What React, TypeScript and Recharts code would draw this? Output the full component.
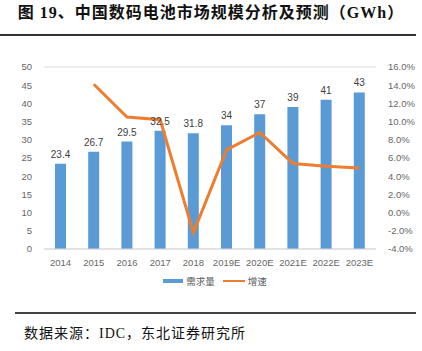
import { ComposedChart, Bar, Line, XAxis, YAxis, CartesianGrid, LabelList } from "recharts"

const years = ["2014", "2015", "2016", "2017", "2018", "2019E", "2020E", "2021E", "2022E", "2023E"]
const demand = [23.4, 26.7, 29.5, 32.5, 31.8, 34, 37, 39, 41, 43]
const growth = [null, 14.1, 10.5, 10.2, -2.2, 6.9, 8.8, 5.4, 5.1, 4.9]
const leftTicks = [0, 5, 10, 15, 20, 25, 30, 35, 40, 45, 50]
const rightTicks = [-4, -2, 0, 2, 4, 6, 8, 10, 12, 14, 16]

const data = years.map((y, i) => ({ year: y, demand: demand[i], growth: growth[i] }))

const tickStyle = { fontSize: 9.5, fill: "#666", fontFamily: "Liberation Sans, Noto Sans CJK SC" }

export default function App() {
  return (
    <div style={{ position: "absolute", left: 0, top: 0, width: 422, height: 351, background: "#fff", fontFamily: "Liberation Serif, Noto Sans CJK SC" }}>
      <div style={{ position: "absolute", left: 0, width: 422, top: 2, textAlign: "center", fontSize: 16, fontWeight: "bold", color: "#111", lineHeight: "22px", letterSpacing: 1 }}>
        图 19、中国数码电池市场规模分析及预测（GWh）
      </div>
      <div style={{ position: "absolute", left: 0, top: 34, width: 416, height: 1.5, background: "#333" }} />

      <div style={{ position: "absolute", left: 0, top: 0 }}>
        <ComposedChart width={422} height={300} data={data} margin={{ top: 67, right: 6, left: 0, bottom: 31 }}>
          <CartesianGrid vertical={false} stroke="#D9D9D9" />
          <XAxis dataKey="year" tick={tickStyle} tickLine={false} axisLine={{ stroke: "#D9D9D9" }} height={20} tickMargin={4} interval={0} />
          <YAxis yAxisId="left" domain={[0, 50]} ticks={leftTicks} tick={tickStyle} tickLine={false} axisLine={false} width={44} interval={0} tickMargin={6} />
          <YAxis yAxisId="right" orientation="right" domain={[-4, 16]} ticks={rightTicks} tick={tickStyle} tickLine={false} axisLine={false} width={40} interval={0} tickMargin={6}
            tickFormatter={(v: number) => `${v.toFixed(1)}%`} />
          <Bar yAxisId="left" dataKey="demand" fill="#5B9BD5" barSize={11} isAnimationActive={false}>
            <LabelList dataKey="demand" position="top" offset={6} style={{ fontSize: 10, fill: "#404040", fontFamily: "Liberation Sans" }} />
          </Bar>
          <Line yAxisId="right" dataKey="growth" stroke="#ED7D31" strokeWidth={3} dot={false} connectNulls={false} isAnimationActive={false} />
        </ComposedChart>
      </div>

      <div style={{ position: "absolute", top: 274, left: 4, width: 422, display: "flex", justifyContent: "center", alignItems: "center", fontSize: 9.5, color: "#595959", lineHeight: "14px", fontFamily: "Noto Sans CJK SC" }}>
        <span style={{ display: "inline-block", width: 20, height: 4, background: "#5B9BD5", marginRight: 3 }} />
        <span style={{ marginRight: 8 }}>需求量</span>
        <span style={{ display: "inline-block", width: 22, height: 2.5, background: "#ED7D31", marginRight: 3 }} />
        <span>增速</span>
      </div>

      <div style={{ position: "absolute", left: 15, top: 312, width: 401, height: 2, background: "#444" }} />
      <div style={{ position: "absolute", left: 24, top: 324, fontSize: 14, color: "#111", lineHeight: "20px", letterSpacing: 1 }}>
        数据来源：IDC，东北证券研究所
      </div>
    </div>
  )
}
